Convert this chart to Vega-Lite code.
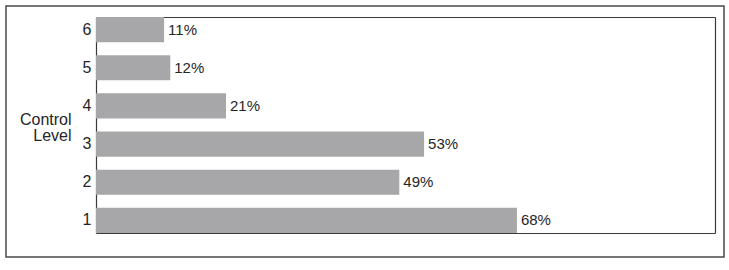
{
  "$schema": "https://vega.github.io/schema/vega-lite/v6.json",
  "width": 718,
  "height": 251,
  "autosize": {"type": "none"},
  "padding": {"left": 6, "top": 6, "right": 5, "bottom": 13},
  "background": "white",
  "config": {
    "view": {"stroke": "#4a4a4a", "strokeWidth": 1.5},
    "font": "Liberation Sans",
    "axis": {"domainColor": "#3a3a3a", "domainWidth": 1.2, "ticks": false, "grid": false}
  },
  "data": {
    "values": [
      {"level": "6", "value": 0.11},
      {"level": "5", "value": 0.12},
      {"level": "4", "value": 0.21},
      {"level": "3", "value": 0.53},
      {"level": "2", "value": 0.49},
      {"level": "1", "value": 0.68}
    ]
  },
  "encoding": {
    "y": {
      "field": "level",
      "type": "ordinal",
      "sort": ["6", "5", "4", "3", "2", "1"],
      "scale": {"range": [11, 227], "paddingInner": 0.34, "paddingOuter": 0}
    },
    "x": {
      "field": "value",
      "type": "quantitative",
      "scale": {"domain": [0, 1], "range": [90, 709], "nice": false, "zero": true}
    }
  },
  "layer": [
    {
      "mark": {"type": "bar", "color": "#a7a7a9"},
      "encoding": {
        "y": {
          "field": "level",
          "type": "ordinal",
          "sort": ["6", "5", "4", "3", "2", "1"],
          "axis": {
            "orient": "left",
            "offset": -90,
            "labelFontSize": 16,
            "labelColor": "#262626",
            "labelPadding": 5,
            "title": ["Control", "Level"],
            "titleFontSize": 16,
            "titleFontWeight": "normal",
            "titleColor": "#262626",
            "titleAngle": 0,
            "titleAlign": "right",
            "titleBaseline": "alphabetic",
            "titleX": -25,
            "titleY": 118,
            "titleLineHeight": 16
          }
        },
        "x": {
          "field": "value",
          "type": "quantitative",
          "axis": {"orient": "bottom", "offset": -24, "labels": false, "title": null}
        }
      }
    },
    {
      "mark": {"type": "text", "align": "left", "baseline": "middle", "dx": 4, "fontSize": 15, "color": "#262626"},
      "encoding": {
        "text": {"field": "value", "type": "quantitative", "format": ".0%"},
        "y": {
          "field": "level",
          "type": "ordinal",
          "sort": ["6", "5", "4", "3", "2", "1"],
          "axis": {"orient": "right", "offset": -9, "labels": false, "title": null}
        },
        "x": {
          "field": "value",
          "type": "quantitative",
          "axis": {"orient": "top", "offset": -11, "labels": false, "title": null}
        }
      }
    }
  ],
  "resolve": {"axis": {"x": "independent", "y": "independent"}}
}
